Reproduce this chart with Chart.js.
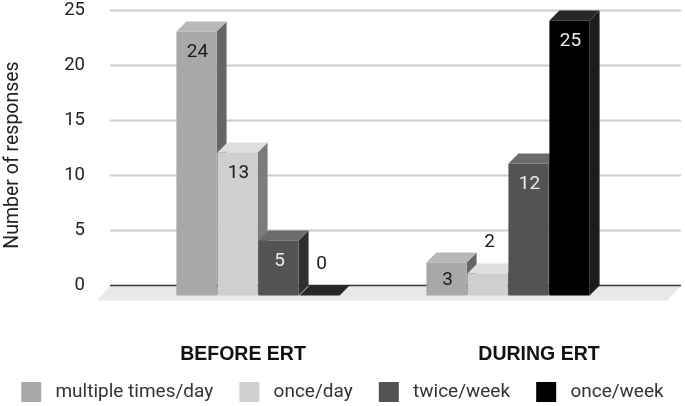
<!DOCTYPE html>
<html>
<head>
<meta charset="utf-8">
<style>
  html, body { margin: 0; padding: 0; background: #fff; }
  canvas { display: block; }
</style>
<script src="https://cdn.jsdelivr.net/npm/chart.js@4/dist/chart.umd.min.js"></script>
</head>
<body>
<canvas id="myChart" width="685" height="406"></canvas>
<script>
const categories = ['BEFORE ERT', 'DURING ERT'];
const seriesNames = ['multiple times/day', 'once/day', 'twice/week', 'once/week'];
const multipleTimes = [24, 3];
const oncePerDay = [13, 2];
const twicePerWeek = [5, 12];
const oncePerWeek = [0, 25];
const yTicks = [0, 5, 10, 15, 20, 25];

const fronts = ['#a8a8a8', '#cfcfcf', '#535353', '#000000'];
const tops = ['#b8b8b8', '#dedede', '#6c6c6c', '#272727'];
const sides = ['#666666', '#7c7c7c', '#2f2f2f', '#1c1c1c'];
const labelColors = ['#1a1a1a', '#1a1a1a', '#eeeeee', '#eeeeee'];

const depth = 10;
const fontName = 'Roboto, sans-serif';
// the x labels do not sit under the bar groups in the original
const catLabelX = [243, 539];

function poly(ctx, pts, color) {
  ctx.fillStyle = color;
  ctx.beginPath();
  pts.forEach((p, i) => i ? ctx.lineTo(p[0], p[1]) : ctx.moveTo(p[0], p[1]));
  ctx.closePath();
  ctx.fill();
}

const box3d = {
  id: 'box3d',
  beforeDraw(chart) {
    // trailing spaces in the legend text push the row off centre
    chart.legend.left += 7;
    chart.legend.right += 7;
  },
  beforeDatasetsDraw(chart) {
    const ctx = chart.ctx;
    const y = chart.scales.y;
    const base = y.getPixelForValue(0);

    // floor
    poly(ctx, [[97, base + 15], [110, base + 1], [681, base + 1], [667, base + 15]], '#e8e8e8');

    // grid lines run wider than the bar scale
    y.ticks.forEach(t => {
      const py = y.getPixelForValue(t.value);
      ctx.strokeStyle = t.value === 0 ? '#333333' : '#cccccc';
      ctx.lineWidth = t.value === 0 ? 1.5 : 2;
      ctx.beginPath();
      ctx.moveTo(110, py);
      ctx.lineTo(681, py);
      ctx.stroke();
    });

    // bars are shifted to the front plane
    ctx.save();
    ctx.translate(-depth, depth);

    categories.forEach((c, i) => {
      chart.data.datasets.forEach((ds, d) => {
        const bar = chart.getDatasetMeta(d).data[i];
        const l = bar.x - bar.width / 2;
        const r = bar.x + bar.width / 2;
        if (ds.data[i] > 0) {
          poly(ctx, [[r, bar.y], [r + depth, bar.y - depth], [r + depth, base - depth], [r, base]], sides[d]);
        }
        poly(ctx, [[l, bar.y], [l + depth, bar.y - depth], [r + depth, bar.y - depth], [r, bar.y]], tops[d]);
      });
    });
  },
  afterDatasetsDraw(chart) {
    const ctx = chart.ctx;
    ctx.font = '19px ' + fontName;
    ctx.textAlign = 'center';
    ctx.textBaseline = 'middle';
    chart.data.datasets.forEach((ds, d) => {
      chart.getDatasetMeta(d).data.forEach((bar, i) => {
        const v = ds.data[i];
        ctx.fillStyle = v < 3 ? '#1a1a1a' : labelColors[d];
        const ly = v < 3 ? bar.y - 31 : bar.y + (v === 3 ? 18 : 21);
        ctx.fillText(String(v), bar.x + (v < 3 ? 2 : 1), ly);
      });
    });
    ctx.restore();

    // axis names
    ctx.fillStyle = '#111111';
    ctx.font = 'bold 19.5px "Liberation Sans", Arial, sans-serif';
    ctx.textAlign = 'center';
    ctx.textBaseline = 'middle';
    categories.forEach((c, i) => ctx.fillText(c, catLabelX[i], 355));

    ctx.save();
    ctx.translate(13, 155);
    ctx.rotate(-Math.PI / 2);
    ctx.fillStyle = '#222222';
    ctx.font = '19.5px ' + fontName;
    ctx.fillText('Number of responses', 0, 0);
    ctx.restore();
  }
};

const allSeries = [multipleTimes, oncePerDay, twicePerWeek, oncePerWeek];

new Chart(document.getElementById('myChart'), {
  type: 'bar',
  plugins: [box3d],
  data: {
    labels: categories,
    datasets: seriesNames.map((name, i) => ({
      label: name,
      data: allSeries[i],
      backgroundColor: fronts[i],
      clip: false,
      categoryPercentage: 0.656,
      barPercentage: 0.98
    }))
  },
  options: {
    responsive: false,
    animation: false,
    layout: { padding: { top: 10.5, right: 0, bottom: -6, left: 0 } },
    plugins: {
      tooltip: { enabled: false },
      legend: {
        position: 'bottom',
        labels: {
          boxWidth: 20,
          boxHeight: 20,
          padding: 12,
          color: '#333333',
          font: { family: fontName, size: 19 },
          generateLabels(chart) {
            return Chart.defaults.plugins.legend.labels.generateLabels(chart).map(item => {
              item.text = ' ' + item.text + '   ';
              item.lineWidth = 0;
              return item;
            });
          }
        }
      }
    },
    scales: {
      x: {
        grid: { display: false },
        border: { display: false },
        ticks: { display: false },
        afterFit(scale) { scale.height = 84.5; }
      },
      y: {
        min: 0,
        max: 25,
        afterFit(scale) {
          scale.width = 143;
          scale.paddingTop = 0;
          scale.paddingBottom = 0;
        },
        afterBuildTicks(scale) { scale.ticks = yTicks.map(v => ({ value: v })); },
        grid: { display: false },
        border: { display: false },
        ticks: {
          padding: 50,
          color: '#222222',
          font: { family: fontName, size: 18.5 }
        }
      },
      rightGap: {
        position: 'right',
        afterFit(scale) { scale.width = 42; },
        grid: { display: false },
        border: { display: false },
        ticks: { display: false }
      }
    }
  }
});
</script>
</body>
</html>
